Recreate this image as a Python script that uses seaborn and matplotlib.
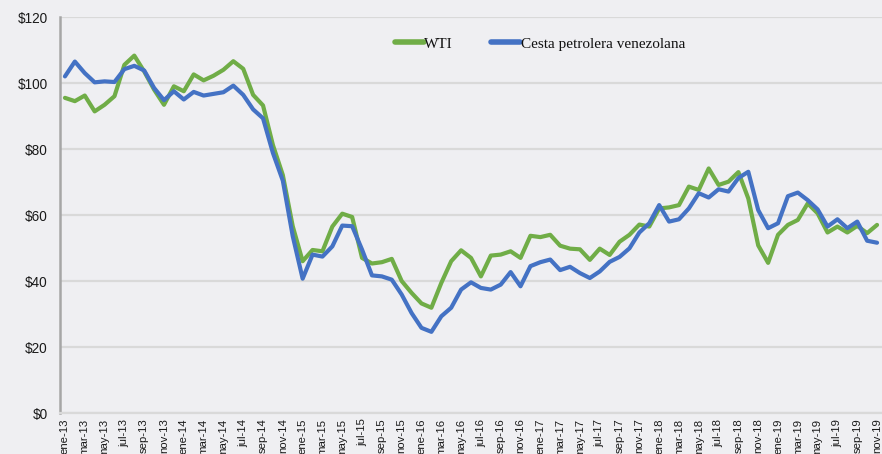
import matplotlib
matplotlib.use("Agg")
import matplotlib.pyplot as plt
from matplotlib.ticker import FixedLocator, FuncFormatter
import seaborn as sns
import pandas as pd

# ---------------- data ----------------
MESES = ["ene", "feb", "mar", "abr", "may", "jun", "jul", "ago", "sep", "oct", "nov", "dic"]
YEARS = ["13", "14", "15", "16", "17", "18", "19"]
months = [f"{m}-{y}" for y in YEARS for m in MESES][:83]   # ene-13 ... nov-19

wti = [95.5, 94.5, 96.2, 91.4, 93.4, 96.0, 105.5, 108.3, 103.5, 98.0, 93.4, 99.0,
       97.5, 102.6, 100.8, 102.2, 104.0, 106.6, 104.3, 96.4, 93.2, 81.2, 72.1, 56.6,
       46.0, 49.4, 49.0, 56.5, 60.4, 59.4, 47.0, 45.3, 45.7, 46.7, 40.0, 36.4,
       33.2, 31.9, 39.4, 46.0, 49.3, 47.0, 41.4, 47.7, 48.0, 49.0, 47.0, 53.7,
       53.3, 54.0, 50.7, 49.8, 49.6, 46.4, 49.8, 47.9, 51.9, 54.0, 57.1, 56.5,
       62.0, 62.3, 63.0, 68.6, 67.6, 74.1, 69.1, 70.1, 73.0, 65.0, 50.8, 45.5,
       54.0, 57.0, 58.5, 63.5, 60.5, 54.7, 56.5, 54.7, 56.7, 54.5, 57.0]

cesta = [102.0, 106.5, 103.0, 100.2, 100.5, 100.3, 104.2, 105.2, 103.8, 98.5, 94.8, 97.5,
         95.0, 97.3, 96.2, 96.7, 97.2, 99.2, 96.4, 92.0, 89.3, 78.8, 70.4, 53.6,
         40.7, 48.0, 47.4, 50.5, 56.8, 56.6, 49.5, 41.7, 41.4, 40.4, 35.9, 30.3,
         25.8, 24.6, 29.3, 31.9, 37.4, 39.6, 37.9, 37.4, 38.9, 42.7, 38.4, 44.5,
         45.7, 46.5, 43.3, 44.3, 42.4, 40.9, 42.9, 45.8, 47.3, 49.9, 54.7, 57.5,
         63.0, 58.0, 58.7, 62.0, 66.6, 65.3, 67.8, 67.1, 71.2, 73.1, 61.5, 56.0,
         57.5, 65.7, 66.8, 64.5, 61.7, 56.5, 58.7, 56.0, 58.0, 52.2, 51.6]

series_names = ["WTI", "Cesta petrolera venezolana"]
colors = {"WTI": "#70AD47", "Cesta petrolera venezolana": "#4472C4"}
yticks = [0, 20, 40, 60, 80, 100, 120]

# ---------------- figure ----------------
sns.set_theme(style="white")
plt.rcParams["font.family"] = ["Liberation Sans", "DejaVu Sans"]

bg = "#EFEFF2"
fig = plt.figure(figsize=(8.82, 4.54), dpi=100, facecolor=bg)
ax = fig.add_axes([60 / 882, 41 / 454, 822 / 882, 396 / 454])
ax.set_facecolor(bg)

df = pd.DataFrame({
    "pos": list(range(len(months))) * 2,
    "mes": months * 2,
    "valor": wti + cesta,
    "serie": [series_names[0]] * len(wti) + [series_names[1]] * len(cesta),
})

sns.lineplot(data=df, x="pos", y="valor", hue="serie", hue_order=series_names,
             palette=colors, linewidth=3.0, ax=ax, legend=True, sort=False)
for ln in ax.get_lines():
    ln.set_solid_joinstyle("round")
    ln.set_solid_capstyle("round")

ax.set_xlim(-0.5, len(months) - 0.5)
ax.set_ylim(0, 120)
ax.set_xlabel("")
ax.set_ylabel("")

# y axis
ax.set_yticks(yticks)
ax.yaxis.set_major_formatter(FuncFormatter(lambda v, p: f"${int(v)}"))
ax.tick_params(axis="y", length=0, pad=9, labelsize=9.8, labelcolor="#1a1a1a")
ax.grid(axis="y", color="#D9D9D9", linewidth=1.6)
ax.set_axisbelow(True)

# x axis: label every second month, ticks at category boundaries
ax.set_xticks(list(range(0, len(months), 2)))
ax.set_xticklabels(months[::2], rotation=90, fontsize=8.2, color="#1a1a1a")
ax.tick_params(axis="x", which="major", length=0, pad=4)
ax.xaxis.set_minor_locator(FixedLocator([i - 0.5 for i in range(0, len(months) + 1, 2)]))
ax.tick_params(axis="x", which="minor", length=5, width=1.2, color="#D9D9D9", direction="out")

for s in ["top", "right"]:
    ax.spines[s].set_visible(False)
ax.spines["left"].set_color("#A6A6A6")
ax.spines["left"].set_linewidth(1.8)
ax.spines["bottom"].set_color("#D9D9D9")
ax.spines["bottom"].set_linewidth(1.6)

# legend
leg = ax.legend(loc="center", bbox_to_anchor=(0.584, 0.932), ncol=2, frameon=False,
                prop={"family": "Liberation Serif", "size": 11},
                handlelength=1.9, handletextpad=0.05, columnspacing=2.5)
for h in leg.get_lines():
    h.set_linewidth(4)
    h.set_solid_capstyle("round")
for t in leg.get_texts():
    t.set_color("#111111")

fig.savefig("out.png", dpi=100, facecolor=bg)
